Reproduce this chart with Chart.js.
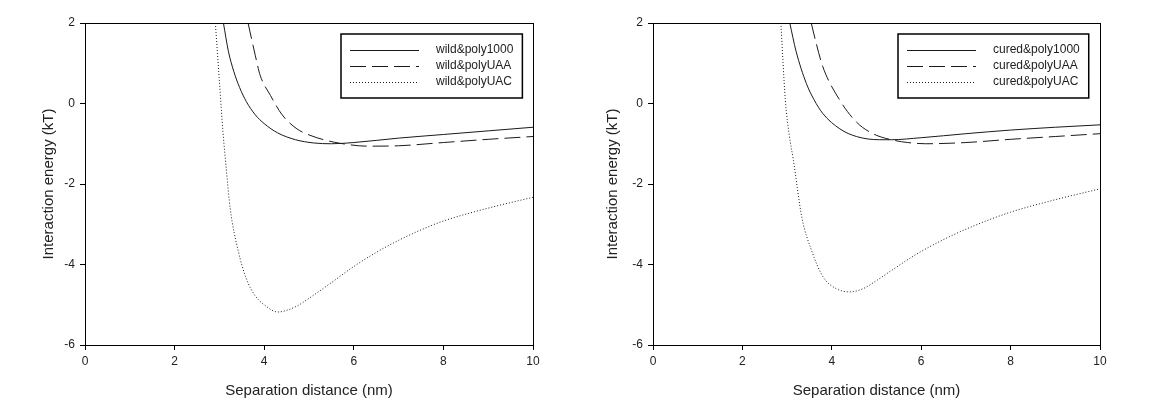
<!DOCTYPE html>
<html lang="en">
<head>
<meta charset="UTF-8">
<title>Interaction energy vs separation distance</title>
<script src="https://cdn.jsdelivr.net/npm/chart.js"></script>
<style>
  body { margin: 0; background: #fff; width: 1155px; height: 410px; position: relative; overflow: hidden; }
  .panel { position: absolute; top: 0; }
</style>
</head>
<body>
<div class="panel" style="left:0"><canvas id="left" width="560" height="410"></canvas></div>
<div class="panel" style="left:570px"><canvas id="right" width="585" height="410"></canvas></div>

<script>
// left panel: wild
const wildLabels = ['wild&poly1000', 'wild&polyUAA', 'wild&polyUAC'];
const wild1000X = [3.09, 3.2, 3.32, 3.45, 3.6, 3.8, 4.0, 4.3, 4.7, 5.1, 5.5, 6.0, 7.0, 8.0, 9.0, 10];
const wild1000Y = [2, 1.3, 0.8, 0.4, 0.05, -0.28, -0.5, -0.73, -0.9, -0.98, -1.0, -0.97, -0.86, -0.77, -0.68, -0.59];
const wildUAAX = [3.64, 3.8, 3.91, 4.14, 4.4, 4.73, 5.0, 5.33, 5.7, 6.3, 7.0, 8.0, 9.0, 10];
const wildUAAY = [2, 1.2, 0.7, 0.2, -0.28, -0.63, -0.78, -0.9, -0.99, -1.06, -1.05, -0.97, -0.89, -0.82];
const wildUACX = [2.91, 3.0, 3.08, 3.16, 3.24, 3.42, 3.6, 3.8, 4.0, 4.3, 4.5, 4.75, 5.0, 5.5, 6.0, 6.5, 7.0, 7.5, 8.0, 9.0, 10];
const wildUACY = [2, 0.55, -0.71, -1.7, -2.6, -3.66, -4.35, -4.78, -5.0, -5.18, -5.14, -5.02, -4.84, -4.45, -4.05, -3.7, -3.4, -3.14, -2.92, -2.6, -2.33];

// right panel: cured
const curedLabels = ['cured&poly1000', 'cured&polyUAA', 'cured&polyUAC'];
const cured1000X = [3.06, 3.2, 3.43, 3.6, 3.8, 4.18, 4.55, 5.07, 5.33, 6.0, 7.0, 8.0, 9.0, 10];
const cured1000Y = [2, 1.3, 0.5, 0.1, -0.25, -0.63, -0.82, -0.9, -0.9, -0.85, -0.75, -0.66, -0.59, -0.53];
const curedUAAX = [3.54, 3.65, 3.8, 4.18, 4.55, 4.92, 5.33, 5.7, 6.1, 7.0, 8.0, 9.0, 10];
const curedUAAY = [2, 1.5, 0.91, 0.08, -0.46, -0.75, -0.9, -0.97, -1.0, -0.97, -0.89, -0.82, -0.75];
const curedUACX = [2.86, 2.96, 3.05, 3.14, 3.33, 3.55, 3.8, 4.1, 4.4, 4.7, 5.0, 5.4, 5.9, 6.5, 7.2, 8.0, 9.0, 10];
const curedUACY = [2, 0.1, -0.8, -1.4, -2.83, -3.66, -4.3, -4.6, -4.68, -4.6, -4.4, -4.1, -3.74, -3.38, -3.03, -2.7, -2.39, -2.12];

const FONT = '"Liberation Sans", Arial, sans-serif';
const dashes = [[], [16, 6], [1, 2]];

// box around the whole plot area
const framePlugin = {
  id: 'frame',
  afterDraw(chart) {
    const { ctx, chartArea: a } = chart;
    ctx.save();
    ctx.strokeStyle = '#000';
    ctx.lineWidth = 1;
    ctx.strokeRect(Math.round(a.left) + 0.5, Math.round(a.top) + 0.5, Math.round(a.width), Math.round(a.height));
    ctx.restore();
  }
};

// legend in a box, top right inside the plot
const boxLegend = {
  id: 'boxLegend',
  afterDraw(chart) {
    const { ctx, chartArea } = chart;
    const sets = chart.data.datasets;
    ctx.save();
    ctx.font = '12px ' + FONT;
    const textW = Math.max(...sets.map(d => ctx.measureText(d.label).width));
    const w = 9 + 69 + 17 + textW + 9, h = 64;
    const x0 = Math.round(chartArea.right - 11 - w), y0 = Math.round(chartArea.top + 11);
    ctx.fillStyle = '#fff';
    ctx.fillRect(x0, y0, w, h);
    ctx.lineWidth = 1.5;
    ctx.strokeStyle = '#000';
    ctx.strokeRect(x0, y0, w, h);
    sets.forEach((d, i) => {
      const y = y0 + 16 * (i + 1);
      ctx.beginPath();
      ctx.setLineDash(d.borderDash);
      ctx.lineWidth = 1;
      ctx.strokeStyle = d.borderColor;
      ctx.moveTo(x0 + 9, y + 0.5);
      ctx.lineTo(x0 + 78, y + 0.5);
      ctx.stroke();
      ctx.setLineDash([]);
      ctx.fillStyle = '#222';
      ctx.textBaseline = 'middle';
      ctx.fillText(d.label, x0 + 95, y);
    });
    ctx.restore();
  }
};

function makeChart(id, labels, xs, ys, yAxisWidth, rightPad, yTitlePad) {
  return new Chart(document.getElementById(id), {
    type: 'scatter',
    data: {
      datasets: labels.map((lab, i) => ({
        label: lab,
        data: xs[i].map((x, j) => ({ x: x, y: ys[i][j] })),
        showLine: true,
        pointRadius: 0,
        borderColor: '#1a1a1a',
        borderWidth: 1,
        borderDash: dashes[i],
        cubicInterpolationMode: 'monotone',
        fill: false
      }))
    },
    options: {
      responsive: false,
      animation: false,
      layout: { padding: { top: 23, right: rightPad, left: 0, bottom: 0 } },
      plugins: { legend: { display: false }, tooltip: { enabled: false } },
      scales: {
        x: {
          type: 'linear', min: 0, max: 10,
          ticks: { stepSize: 2, color: '#222', font: { family: FONT, size: 12 }, padding: 4 },
          grid: { drawOnChartArea: false, drawTicks: true, tickLength: 5, tickColor: '#000' },
          border: { color: '#000', width: 1 },
          title: { display: true, text: 'Separation distance (nm)', color: '#222',
                   font: { family: FONT, size: 15 }, padding: { top: 0, bottom: 10 } },
          afterFit: s => { s.height = 65; }
        },
        y: {
          min: -6, max: 2,
          ticks: { stepSize: 2, color: '#222', font: { family: FONT, size: 12 }, padding: 5 },
          grid: { drawOnChartArea: false, drawTicks: true, tickLength: 5, tickColor: '#000' },
          border: { color: '#000', width: 1 },
          title: { display: true, text: 'Interaction energy (kT)', color: '#222',
                   font: { family: FONT, size: 15 }, padding: { top: yTitlePad, bottom: 0 } },
          afterFit: s => { s.width = yAxisWidth; }
        }
      }
    },
    plugins: [framePlugin, boxLegend]
  });
}

makeChart('left', wildLabels,
  [wild1000X, wildUAAX, wildUACX], [wild1000Y, wildUAAY, wildUACY], 85, 27, 40);
makeChart('right', curedLabels,
  [cured1000X, curedUAAX, curedUACX], [cured1000Y, curedUAAY, curedUACY], 83, 55, 34);
</script>
</body>
</html>
